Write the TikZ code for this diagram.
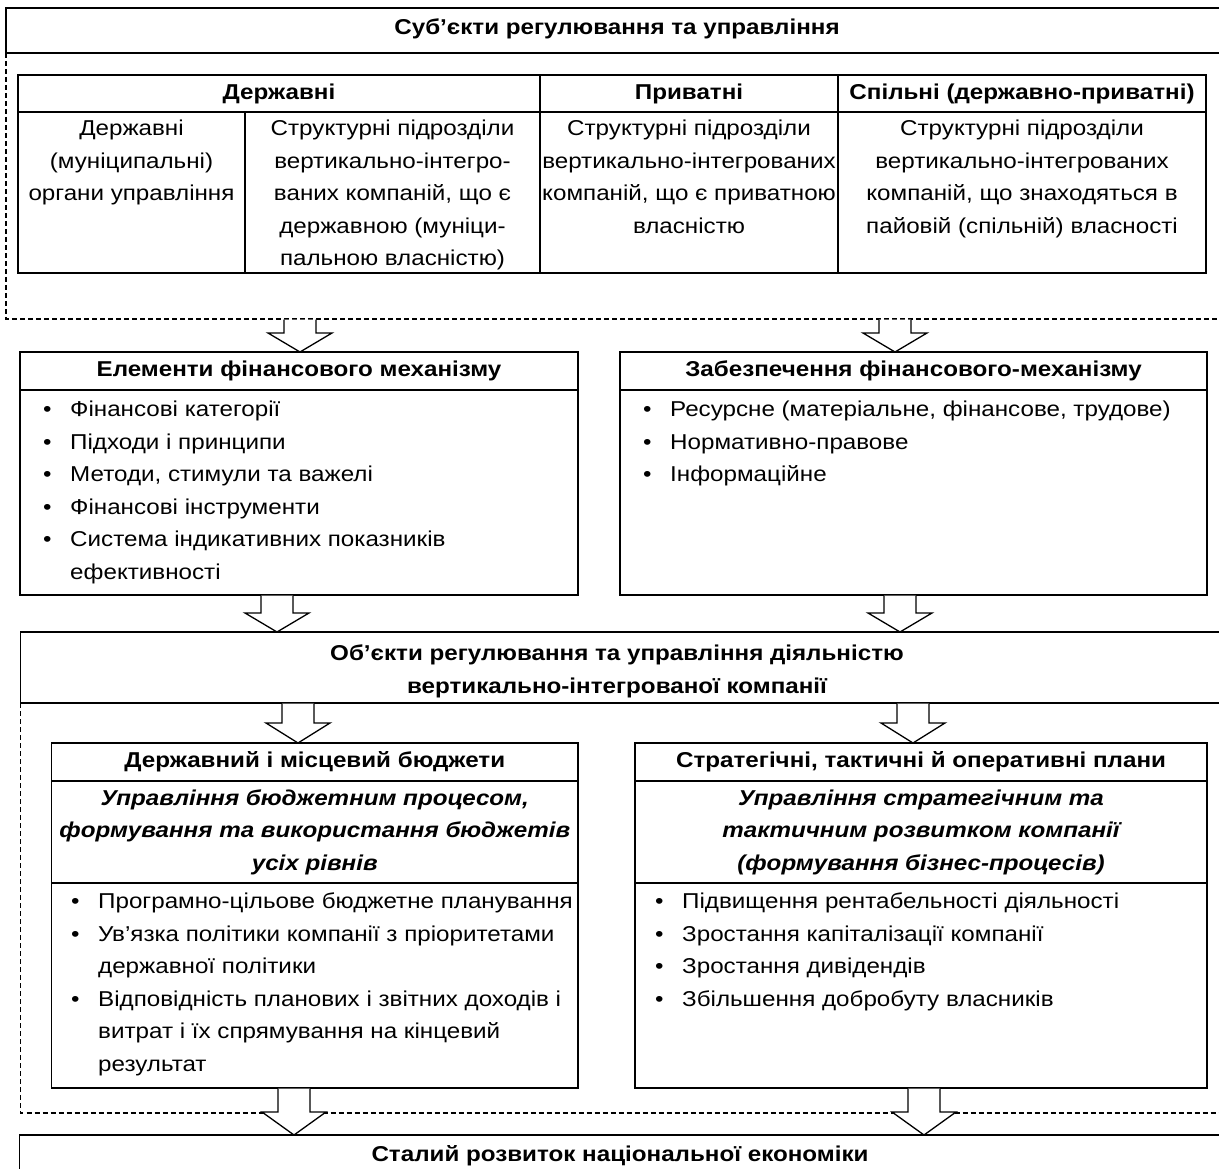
\documentclass[tikz,border=0pt]{standalone}
\usepackage{fontspec}
\setmainfont{Liberation Sans}[FakeStretch=1.125]
\usetikzlibrary{calc}
\newcommand\diafont{\fontsize{21.5}{32.5}\selectfont}
\newcommand\blt{\makebox[27pt][l]{•}}
\newcommand\ind{\hspace*{27pt}}
\tikzset{
  box/.style={draw, line width=1.3pt, inner sep=0pt, outer sep=0pt, anchor=north west, font=\diafont},
  hbox/.style={box, font=\diafont\bfseries},
  ibox/.style={box, font=\diafont\bfseries\itshape, align=center},
  txt/.style={inner sep=0pt, anchor=north, align=center, font=\diafont},
  lst/.style={inner sep=0pt, anchor=north west, align=left, font=\diafont},
  dashl/.style={line width=1.2pt, dash pattern=on 5pt off 3pt},
  blockarrow/.style={draw, fill=white, line width=1.3pt, line join=miter}
}
\newcommand\barrow[4]{%
  \draw[blockarrow] let \p1=(#2), \p2=(#3) in
    (#1pt-16pt,\y1-0.7pt) -- (#1pt-16pt,\y2+#4pt) -- (#1pt-32pt,\y2+#4pt) --
    (#1pt,\y2) -- (#1pt+32pt,\y2+#4pt) -- (#1pt+16pt,\y2+#4pt) -- (#1pt+16pt,\y1-0.7pt);}
\begin{document}
\begin{tikzpicture}[x=1pt,y=-1pt]
\useasboundingbox (0,0) rectangle (1219,1169);
\clip (0,0) rectangle (1219,1169);
% subjects
\node[box, minimum width=1240pt, minimum height=45pt] (subj) at (6,8) {};
\node[txt, anchor=center, font=\diafont\bfseries] (subjt) at (617,29) {Суб’єкти регулювання та управління};
\coordinate (sb) at (6,319);
\draw[dashl] (subj.south west) -- (sb) -- (sb -| subj.east);
% table
\node[hbox, minimum width=522pt, minimum height=37pt] (h1) at (18,75) {Державні};
\node[hbox, minimum width=298pt, minimum height=37pt] (h2) at (540,75) {Приватні};
\node[hbox, minimum width=368pt, minimum height=37pt] (h3) at (838,75) {Спільні (державно-приватні)};
\node[box, minimum width=227pt, minimum height=161pt] (c1) at (18,112) {};
\node[box, minimum width=295pt, minimum height=161pt] (c2) at (245,112) {};
\node[box, minimum width=298pt, minimum height=161pt] (c3) at (540,112) {};
\node[box, minimum width=368pt, minimum height=161pt] (c4) at (838,112) {};
\node[txt] (t1) at ($(c1.north)+(0,8)$) {Державні\\(муніципальні)\\органи управління};
\node[txt] (t2) at ($(c2.north)+(0,8)$) {Структурні підрозділи\\вертикально-інтегро-\\ваних компаній, що є\\державною (муніци-\\пальною власністю)};
\node[txt] (t3) at ($(c3.north)+(0,8)$) {Структурні підрозділи\\вертикально-інтегрованих\\компаній, що є приватною\\власністю};
\node[txt] (t4) at ($(c4.north)+(0,8)$) {Структурні підрозділи\\вертикально-інтегрованих\\компаній, що знаходяться в\\пайовій (спільній) власності};
% middle boxes
\node[hbox, minimum width=558pt, minimum height=38pt] (elh) at (20,352) {Елементи фінансового механізму};
\node[box, minimum width=558pt, minimum height=205pt] (elb) at (20,390) {};
\node[lst] (ell) at (43,401) {\blt Фінансові категорії\\\blt Підходи і принципи\\\blt Методи, стимули та важелі\\\blt Фінансові інструменти\\\blt Система індикативних показників\\\ind ефективності};
\node[hbox, minimum width=587pt, minimum height=38pt] (zbh) at (620,352) {Забезпечення фінансового-механізму};
\node[box, minimum width=587pt, minimum height=205pt] (zbb) at (620,390) {};
\node[lst] (zbl) at (643,401) {\blt Ресурсне (матеріальне, фінансове, трудове)\\\blt Нормативно-правове\\\blt Інформаційне};
% objects
\node[box, minimum width=1220pt, minimum height=71pt] (obj) at (20.5,632) {};
\node[txt, font=\diafont\bfseries] (objt) at (617,645) {Об’єкти регулювання та управління діяльністю\\вертикально-інтегрованої компанії};
\coordinate (ob) at (20.5,1113);
\draw[dashl] (obj.south west) -- (ob) -- (ob -| obj.east);
% lower boxes
\node[hbox, minimum width=526.5pt, minimum height=38pt] (bdh) at (51.5,743) {Державний і місцевий бюджети};
\node[ibox, minimum width=526.5pt, minimum height=102pt] (bdi) at (51.5,781) {Управління бюджетним процесом,\\формування та використання бюджетів\\усіх рівнів};
\node[box, minimum width=526.5pt, minimum height=205pt] (bdb) at (51.5,883) {};
\node[lst] (bdl) at (71,893) {\blt Програмно-цільове бюджетне планування\\\blt Ув’язка політики компанії з пріоритетами\\\ind державної політики\\\blt Відповідність планових і звітних доходів і\\\ind витрат і їх спрямування на кінцевий\\\ind результат};
\node[hbox, minimum width=572pt, minimum height=38pt] (sth) at (635,743) {Стратегічні, тактичні й оперативні плани};
\node[ibox, minimum width=572pt, minimum height=102pt] (sti) at (635,781) {Управління стратегічним та\\тактичним розвитком компанії\\(формування бізнес-процесів)};
\node[box, minimum width=572pt, minimum height=205pt] (stb) at (635,883) {};
\node[lst] (stl) at (655,893) {\blt Підвищення рентабельності діяльності\\\blt Зростання капіталізації компанії\\\blt Зростання дивідендів\\\blt Збільшення добробуту власників};
% final
\node[box, minimum width=1220pt, minimum height=60pt] (fin) at (19.5,1135) {};
\node[txt, font=\diafont\bfseries] (fint) at (620,1145) {Сталий розвиток національної економіки};
% arrows
\barrow{300}{sb}{elh.north}{19}
\barrow{895}{sb}{zbh.north}{19}
\barrow{277}{elb.south}{obj.north}{19}
\barrow{900}{zbb.south}{obj.north}{19}
\barrow{298}{obj.south}{bdh.north}{20}
\barrow{913}{obj.south}{sth.north}{20}
\barrow{294}{bdb.south}{fin.north}{23}
\barrow{924}{stb.south}{fin.north}{23}
\end{tikzpicture}
\end{document}
